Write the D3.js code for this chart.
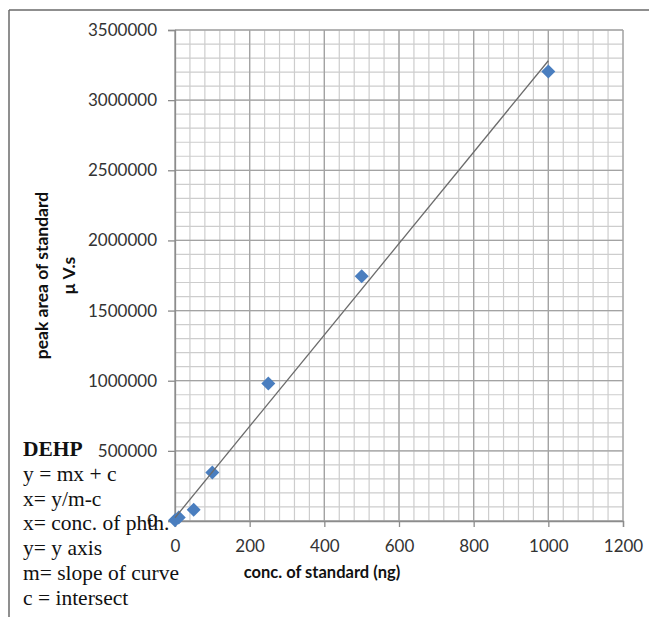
<!DOCTYPE html>
<html>
<head>
<meta charset="utf-8">
<script src="https://cdn.jsdelivr.net/npm/d3@7"></script>
<style>
  body { margin: 0; background: #fff; }
</style>
</head>
<body>
<svg id="chart" width="649" height="617"></svg>
<script>
// calibration data (DEHP standard)
var conc = [0, 10, 50, 100, 250, 500, 1000];
var peakArea = [5000, 25000, 80000, 345000, 980000, 1745000, 3205000];
var xTicks = [0, 200, 400, 600, 800, 1000, 1200];
var yTicks = [0, 500000, 1000000, 1500000, 2000000, 2500000, 3000000, 3500000];
var xTitle = "conc. of standard (ng)";
var yTitle = ["peak area of standard", "\u03bc V.s"];
var noteTitle = "DEHP";
var notes = ["y = mx + c", "x= y/m-c", "x= conc. of phth.", "y= y axis", "m= slope of curve", "c = intersect"];

function init() {
    var W = 649, H = 617;
    var left = 175, right = 623, top = 30, bottom = 521;
    var sans = "Lato, 'Open Sans', sans-serif";

    var svg = d3.select("#chart");

    var xScale = d3.scaleLinear().domain([0, 1200]).range([left, right]);
    var yScale = d3.scaleLinear().domain([0, 3500000]).range([bottom, top]);

    // frame lines (top and left only)
    svg.append("line").attr("x1", 9).attr("x2", W).attr("y1", 10).attr("y2", 10)
        .attr("stroke", "#6a6a6a").attr("stroke-width", 1.5);
    svg.append("line").attr("x1", 9).attr("x2", 9).attr("y1", 10).attr("y2", H)
        .attr("stroke", "#6a6a6a").attr("stroke-width", 1.5);

    // minor gridlines
    var xMinor = d3.range(0, 1201, 40);
    var yMinor = d3.range(0, 3500001, 100000);
    var grid = svg.append("g");
    grid.selectAll(".vx").data(xMinor).enter().append("line")
        .attr("x1", function(d) { return xScale(d); })
        .attr("x2", function(d) { return xScale(d); })
        .attr("y1", top).attr("y2", bottom)
        .attr("stroke", "#cdcdcd").attr("stroke-width", 1.2);
    grid.selectAll(".hy").data(yMinor).enter().append("line")
        .attr("y1", function(d) { return yScale(d); })
        .attr("y2", function(d) { return yScale(d); })
        .attr("x1", left).attr("x2", right)
        .attr("stroke", "#cdcdcd").attr("stroke-width", 1.2);

    // major gridlines
    grid.selectAll(".mx").data(xTicks).enter().append("line")
        .attr("x1", function(d) { return xScale(d); })
        .attr("x2", function(d) { return xScale(d); })
        .attr("y1", top).attr("y2", bottom)
        .attr("stroke", "#a3a3a3").attr("stroke-width", 1.3);
    grid.selectAll(".my").data(yTicks).enter().append("line")
        .attr("y1", function(d) { return yScale(d); })
        .attr("y2", function(d) { return yScale(d); })
        .attr("x1", left).attr("x2", right)
        .attr("stroke", "#a3a3a3").attr("stroke-width", 1.3);

    // axes
    var xAxis = d3.axisBottom(xScale).tickValues(xTicks).tickSize(6).tickPadding(13)
        .tickFormat(d3.format("d"));
    var yAxis = d3.axisLeft(yScale).tickValues(yTicks).tickSize(7).tickPadding(11)
        .tickFormat(d3.format("d"));

    var gx = svg.append("g").attr("transform", "translate(0," + bottom + ")").call(xAxis);
    var gy = svg.append("g").attr("transform", "translate(" + left + ",0)").call(yAxis);
    [gx, gy].forEach(function(g) {
        g.select(".domain").attr("stroke", "#8c8c8c").attr("stroke-width", 1.3);
        g.selectAll(".tick line").attr("stroke", "#8c8c8c").attr("stroke-width", 1.3);
        g.selectAll(".tick text")
            .attr("fill", "#333")
            .style("font-family", sans)
            .style("font-size", "17px");
    });

    // series markers (diamonds)
    var pts = conc.map(function(c, i) { return [c, peakArea[i]]; });
    svg.selectAll(".pt").data(pts).enter().append("path")
        .attr("d", d3.symbol().type(d3.symbolDiamond2).size(125))
        .attr("transform", function(d) {
            return "translate(" + xScale(d[0]) + "," + yScale(d[1]) + ")";
        })
        .attr("fill", "#4a7ebf");

    // linear trendline (least squares)
    var mx = d3.mean(conc), my = d3.mean(peakArea);
    var sxy = d3.sum(conc, function(c, i) { return (c - mx) * (peakArea[i] - my); });
    var sxx = d3.sum(conc, function(c) { return (c - mx) * (c - mx); });
    var m = sxy / sxx, c0 = my - m * mx;
    var xs = d3.extent(conc);
    svg.append("line")
        .attr("x1", xScale(xs[0])).attr("y1", yScale(m * xs[0] + c0))
        .attr("x2", xScale(xs[1])).attr("y2", yScale(m * xs[1] + c0))
        .attr("stroke", "#6b6b6b").attr("stroke-width", 1.3);

    // axis titles
    svg.append("text")
        .attr("x", 322).attr("y", 578)
        .attr("text-anchor", "middle")
        .style("font-family", sans)
        .style("font-size", "16.5px").style("font-weight", "bold")
        .attr("fill", "#111")
        .text(xTitle);

    var yt = svg.append("text")
        .attr("transform", "translate(48," + ((top + bottom) / 2) + ") rotate(-90)")
        .attr("text-anchor", "middle")
        .style("font-family", sans)
        .style("font-size", "17.5px").style("font-weight", "bold")
        .attr("fill", "#111");
    yt.selectAll("tspan").data(yTitle).enter().append("tspan")
        .attr("x", 0).attr("dy", function(d, i) { return i === 0 ? 0 : 27; })
        .text(function(d) { return d; });

    // notes block
    var nt = svg.append("g")
        .style("font-family", "'Liberation Serif', 'Times New Roman', serif")
        .style("font-size", "21.5px").attr("fill", "#111");
    nt.append("text").attr("x", 23).attr("y", 456)
        .style("font-weight", "bold").text(noteTitle);
    nt.selectAll(".nl").data(notes).enter().append("text")
        .attr("x", 23)
        .attr("y", function(d, i) { return 456 + 24.8 * (i + 1); })
        .text(function(d) { return d; });
}
window.onload = init;
</script>
</body>
</html>
